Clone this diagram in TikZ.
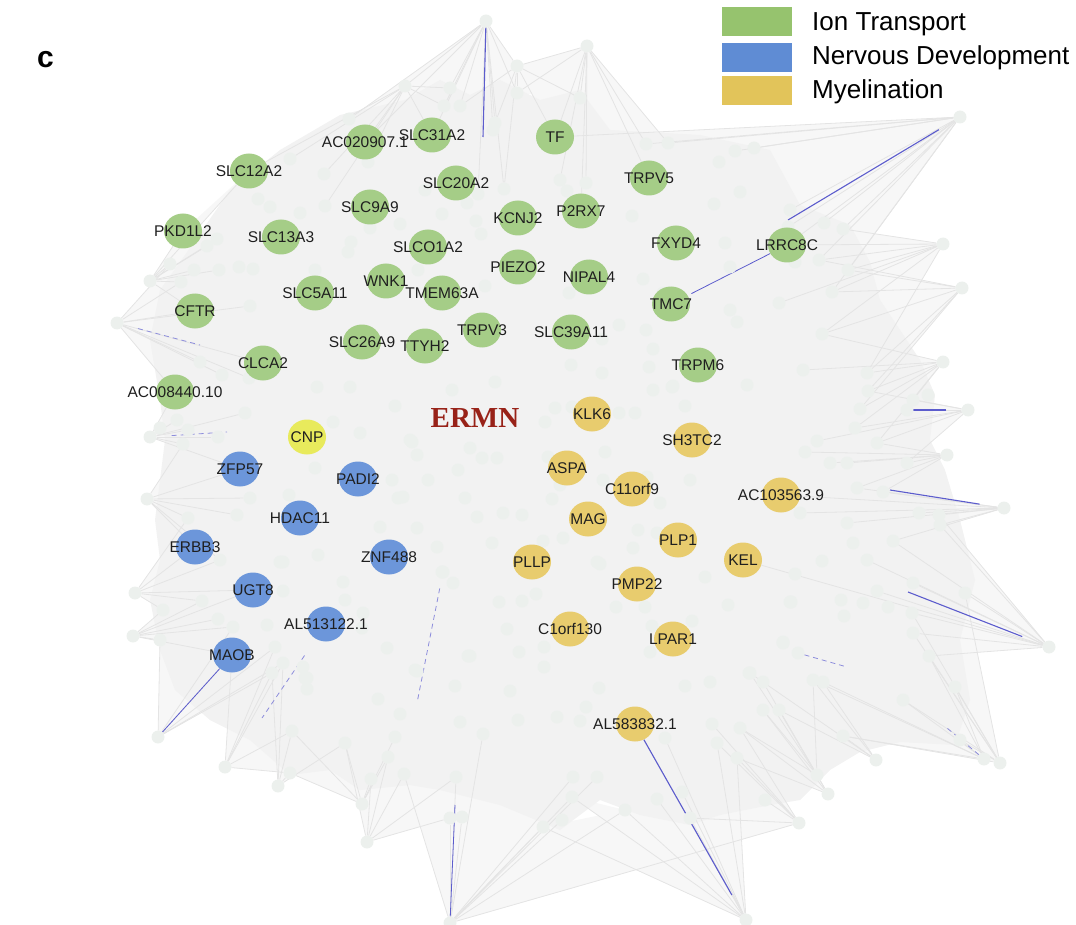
\documentclass[tikz,border=0pt]{standalone}
\usepackage{fontspec}
\setmainfont{Liberation Sans}
\newfontfamily\ermnfont{Liberation Serif}
\usepackage{tikz}
\usetikzlibrary{shapes.geometric}
\usetikzlibrary{backgrounds}

\definecolor{iongreen}{RGB}{165,205,135}
\definecolor{nervblue}{RGB}{108,150,218}
\definecolor{myelyellow}{RGB}{232,204,110}
\definecolor{legion}{RGB}{150,195,110}
\definecolor{legnerv}{RGB}{95,140,212}
\definecolor{legmyel}{RGB}{226,196,90}
\definecolor{cnpyellow}{RGB}{232,234,92}
\definecolor{webgray}{RGB}{242,242,242}
\definecolor{spikegray}{RGB}{247,247,247}
\definecolor{edgegray}{RGB}{228,228,228}
\definecolor{dotgray}{RGB}{236,240,237}
\definecolor{hilite}{RGB}{92,92,205}
\definecolor{ermnred}{RGB}{152,34,24}

\newcommand\iongenes{tf/555/137/TF, slc31a2/432/135/SLC31A2, ac020907/365/142/AC020907.1,
  slc12a2/249/171/SLC12A2, slc20a2/456/183/SLC20A2, trpv5/649/178/TRPV5, slc9a9/370/207/SLC9A9,
  kcnj2/518/218/KCNJ2, p2rx7/581/211/P2RX7, pkd1l2/183/231/PKD1L2, slc13a3/281/237/SLC13A3,
  fxyd4/676/243/FXYD4, lrrc8c/787/245/LRRC8C, slco1a2/428/247/SLCO1A2, piezo2/518/267/PIEZO2,
  nipal4/589/277/NIPAL4, wnk1/386/281/WNK1, slc5a11/315/293/SLC5A11, tmem63a/442/293/TMEM63A,
  tmc7/671/304/TMC7, cftr/195/311/CFTR, trpv3/482/330/TRPV3, slc39a11/571/332/SLC39A11,
  slc26a9/362/342/SLC26A9, ttyh2/425/346/TTYH2, clca2/263/363/CLCA2, trpm6/698/365/TRPM6,
  ac008440/175/392/AC008440.10}
\newcommand\nervgenes{zfp57/240/469/ZFP57, padi2/358/479/PADI2, hdac11/300/518/HDAC11,
  erbb3/195/547/ERBB3, znf488/389/557/ZNF488, ugt8/253/590/UGT8, al513122/326/624/AL513122.1,
  maob/232/655/MAOB}
\newcommand\myelgenes{klk6/592/414/KLK6, sh3tc2/692/440/SH3TC2, aspa/567/468/ASPA,
  c11orf9/632/489/C11orf9, ac103563/781/495/AC103563.9, mag/588/519/MAG, plp1/678/540/PLP1,
  kel/743/560/KEL, pllp/532/562/PLLP, pmp22/637/584/PMP22, c1orf130/570/629/C1orf130,
  lpar1/673/639/LPAR1, al583832/635/724/AL583832.1}
\newcommand\hubfans{
  hA/{hB,a8,a1,a2,a3,a5,a6,slc31a2,ac020907,a14,a13,a4,hC},
  hB/{a10,slc12a2,a11,g4,a9,ac020907,slc31a2,a2,a1},
  hC/{a3,a5,a13,a4,a7,tf},
  hD/{hC,a4,a7,p2rx7,b6,tf,b7,trpv5,b1,b2},
  hE/{tf,b1,b2,b3,b4,b13,b14,lrrc8c,b17,b15,b16,b40,b35},
  hF/{b16,b40,b17,b35,b33,lrrc8c,r1,r3},
  hG/{b17,b40,b35,r1,r3,r4,r7},
  hH/{r2,r1,r3,r4,r7,r9,r12,r5},
  hI/{r10,r9,r4,r5,r8,r12,r15},
  hJ/{r11,r13,r14,r12,r16,r17,r15},
  hK/{r16,r18,ac103563,r19,r17,r21,r22,r23,r24},
  hL/{r37,r23,r24,r21,r26,r30,r33,kel,r34,r35,r36},
  hM/{r37,r35,r34,r36,r43,r44,r45,r46},
  hN/{r36,r43,r44,r41,r42,r45,r46},
  hO/{r41,r42,r45,e37,r47},
  hP/{r41,r47,e28,e36,e37,e32},
  hQ/{hP,e37,e36,e32,e34},
  hR/{e32,e47,e46,e34,e33,e31},
  hS/{e40,e43,e44,e45,e35,al583832,e33,e34,e46,e42},
  hT/{hR,e43,e42,e41,e40,e39,e38,f17,f20,f19,f10,f15},
  hU/{f19,f17,f15,f16,f14,f12},
  hV/{f13,f14,f16,f12,f11,f18},
  hW/{f12,f18,f11,f1,l22},
  hX/{f18,f11,f1,l22,l21,maob},
  hY/{f1,l22,l21,l19,maob,l20},
  hZ/{maob,l19,ugt8,l18,l17,l16,l20},
  hAA/{ugt8,l17,l16,l14,erbb3,l11},
  hAB/{l14,erbb3,l11,l12,l13,zfp57,l9},
  hAC/{l9,zfp57,l10,l8,l5,l7,l6,ac008440},
  hAD/{ac008440,clca2,l4,l3,l2,l1,cftr,g12,g7},
  hAE/{cftr,g12,g7,g8,g9,g6,g5,pkd1l2,slc12a2}}

\begin{document}
\begin{tikzpicture}[x=1pt, y=-1pt,
    dot/.style={circle, fill=dotgray, minimum size=13pt, inner sep=0pt},
    gene/.style={ellipse, minimum width=38pt, minimum height=35pt, inner sep=0pt},
    ion/.style={gene, fill=iongreen},
    nerv/.style={gene, fill=nervblue},
    myel/.style={gene, fill=myelyellow},
    genelab/.style={font=\fontsize{15.5}{16}\selectfont, text=black!88, inner sep=0pt},
    edge/.style={draw=edgegray, line width=0.8pt},
    spike/.style={fill=spikegray},
    hl/.style={draw=hilite, line width=1.1pt},
    hldash/.style={draw=hilite!70, line width=0.8pt, dash pattern=on 5pt off 4pt},
    legbox/.style={minimum width=70pt, minimum height=29pt, inner sep=0pt},
    legtext/.style={anchor=base west, font=\fontsize{26}{26}\selectfont, inner sep=0pt}]

  \useasboundingbox (0,0) rectangle (1076,925);

  % outer hubs
  \foreach \n/\x/\y in {hA/486/21, hB/405/86, hC/517/66, hD/587/46, hE/960/117, hF/943/244,
      hG/962/288, hH/943/362, hI/968/410, hJ/947/455, hK/1004/508, hL/1049/647, hM/1000/763,
      hN/984/759, hO/876/760, hP/817/775, hQ/828/794, hR/799/823, hS/746/920, hT/450/923,
      hU/367/842, hV/362/804, hW/278/786, hX/225/767, hY/158/737, hZ/133/636, hAA/135/593,
      hAB/147/499, hAC/150/437, hAD/117/323, hAE/150/281}
    \node[dot] (\n) at (\x,\y) {};

  % small genes inside the web
  \foreach \n/\x/\y in {a1/450/88, a2/444/106, a3/460/106, a4/517/93, a5/495/123, a6/493/130,
      a7/580/98, a8/349/119, a9/368/162, a10/290/159, a11/324/174, a12/425/190, a13/504/189,
      a14/478/194, a15/467/203,
      b1/646/144, b2/668/143, b3/735/151, b4/754/148, b5/719/162, b6/560/180, b7/586/183,
      b8/567/191, b9/714/204, b10/740/192, b11/632/216, b12/725/243, b13/790/210, b14/788/227,
      b15/824/223, b16/843/229, b17/819/260, b18/730/267, b19/643/279, b20/663/293, b21/569/293,
      b22/602/339, b23/619/325, b24/646/330, b25/653/349, b26/571/365, b27/602/373, b28/649/367,
      b29/672/387, b30/747/385, b31/730/310, b32/737/322, b33/779/303, b35/832/292,
      b39/795/262, b40/848/270,
      g1/258/199, g2/270/207, g3/300/213, g4/325/206, g5/217/239, g6/207/246, g7/170/264,
      g8/194/270, g9/219/270, g10/239/267, g11/253/269, g12/181/282, g13/315/270, g14/351/242,
      g15/348/252, g16/370/228, g17/400/224, g18/418/270, g19/442/214, g20/476/221,
      g21/481/234, g22/485/286,
      l1/250/306, l2/200/362, l3/222/375, l4/249/378, l5/245/413, l6/177/420, l7/160/428,
      l8/188/430, l9/183/444, l10/218/437, l11/188/518, l12/237/515, l13/250/498, l14/220/560,
      l15/280/562, l16/163/610, l17/202/601, l18/218/619, l19/233/627, l20/160/640,
      l21/275/647, l22/283/663,
      m1/452/390, m2/495/382, m3/555/408, m4/545/422, m5/572/407, m6/619/413, m7/635/413,
      m8/653/390, m9/673/386, m10/685/406, m11/412/442, m12/417/455, m13/470/448, m14/482/458,
      m15/497/458, m16/458/470, m17/428/480, m18/403/497, m19/465/498, m20/548/457,
      m21/605/452, m22/603/480, m23/560/485, m24/552/499, m25/647/477, m26/660/503,
      m27/690/480, m28/477/517, m29/503/513, m30/522/515, m31/563/538, m32/543/541,
      m33/638/530, m34/657/533, m35/633/548, m36/597/562, m37/492/543, m38/437/547,
      m39/417/528, m40/442/572, m41/317/387, m42/350/387, m43/333/422, m44/360/433,
      m45/395/406, m46/410/440, m47/315/468, m48/392/480, m49/398/498, m50/289/495,
      m51/380/527, m52/283/562, m53/318/555, m54/343/582, m55/345/600, m56/363/613,
      m57/362/628, m58/387/648, m59/283/591, m60/267/625, m61/303/667, m62/307/678, m63/415/670,
      r1/822/334, r2/803/370, r3/867/373, r4/868/391, r5/913/400, r6/928/395, r7/860/409,
      r8/907/410, r9/855/428, r10/817/441, r11/805/452, r12/877/443, r13/830/463, r14/847/463,
      r15/907/463, r16/857/488, r17/883/492, r18/800/513, r19/847/523, r20/853/543,
      r21/893/541, r22/919/513, r23/939/515, r24/940/525, r25/822/561, r26/867/560,
      r27/795/574, r28/791/602, r29/841/600, r30/877/591, r31/863/603, r32/888/607,
      r33/913/583, r34/912/613, r35/913/633, r36/929/656, r37/965/593, r38/844/616,
      r39/783/643, r40/798/653, r41/813/680, r42/823/682, r43/955/687, r44/903/700,
      r45/843/736, r46/960/740, r47/750/673,
      e1/443/572, e2/453/583, e3/499/602, e4/522/601, e5/536/594, e6/600/564, e7/507/629,
      e8/544/647, e9/519/652, e10/544/667, e11/470/656, e12/510/691, e13/599/688, e14/586/707,
      e15/557/717, e16/580/721, e17/518/720, e18/616/607, e19/645/607, e20/652/626,
      e21/650/652, e22/692/621, e23/705/577, e24/728/605, e25/790/602, e26/783/642,
      e27/749/673, e28/763/682, e29/685/686, e30/710/682, e31/712/724, e32/740/728,
      e33/717/743, e34/737/758, e35/665/738, e36/763/710, e37/779/710, e38/573/777,
      e39/597/777, e40/572/797, e41/562/820, e42/543/827, e43/625/810, e44/657/799,
      e45/682/792, e46/690/818, e47/765/800,
      f1/272/673, f2/305/678, f3/307/689, f4/378/699, f5/417/671, f6/468/656, f7/455/686,
      f8/400/714, f9/460/722, f10/483/734, f11/292/731, f12/345/743, f13/395/737, f14/388/757,
      f15/404/774, f16/371/779, f17/456/777, f18/290/773, f19/450/818, f20/462/817}
    \node[dot] (\n) at (\x,\y) {};

  % the three gene groups
  \foreach \n/\x/\y/\lab in \iongenes
    \node[ion] (\n) at (\x,\y) {};
  \foreach \n/\x/\y/\lab in \nervgenes
    \node[nerv] (\n) at (\x,\y) {};
  \foreach \n/\x/\y/\lab in \myelgenes
    \node[myel] (\n) at (\x,\y) {};
  \node[gene, fill=cnpyellow] (cnp) at (307,437) {};

  \coordinate (tipA) at (483,137);
  \coordinate (tipE) at (788,220);
  \coordinate (tipAD) at (200,345);
  \coordinate (tipAC) at (227,432);
  \coordinate (tipT) at (455,805);
  \coordinate (tipK) at (890,490);
  \coordinate (tipL) at (908,592);
  \coordinate (tipI) at (902,410);
  \coordinate (tipN) at (947,728);
  \coordinate (tipM) at (262,718);
  \coordinate (tipV) at (417,703);
  \coordinate (tipR) at (847,667);

  \begin{pgfonlayer}{background}
    % the fans, filled
    \foreach \h/\ts in \hubfans
      \foreach \tg [remember=\tg as \prev (initially \h)] in \ts
        \fill[spike] (\h.center) -- (\prev.center) -- (\tg.center) -- cycle;
    % dense core
    \fill[webgray] (405,100) -- (440,80) -- (470,95) -- (500,80) -- (540,100) -- (580,90)
      -- (610,130) -- (700,135) -- (770,150) -- (800,205) -- (850,225) -- (870,262)
      -- (880,300) -- (900,330) -- (920,360) -- (935,395) -- (930,440) -- (945,470)
      -- (960,520) -- (975,580) -- (960,640) -- (970,700) -- (955,745) -- (900,742)
      -- (860,752) -- (830,770) -- (800,800) -- (770,805) -- (720,815) -- (690,825)
      -- (640,815) -- (600,800) -- (560,830) -- (500,805) -- (440,790) -- (410,785)
      -- (360,790) -- (330,770) -- (290,775) -- (250,740) -- (210,720) -- (175,690)
      -- (160,650) -- (150,600) -- (160,560) -- (155,520) -- (160,480) -- (165,440)
      -- (160,400) -- (150,340) -- (160,290) -- (185,255) -- (230,190) -- (280,150)
      -- (340,115) -- cycle;
    % fans out to the hubs
    \foreach \h/\ts in \hubfans
      \foreach \tg in \ts
        \draw[edge] (\h) -- (\tg);
    % highlighted links
    \draw[hl] (hA) -- (tipA);
    \draw[hl, shorten <=18pt] (hE) -- (tipE);
    \draw[hl, line width=0.8pt, shorten >=4pt] (lrrc8c) -- (tmc7);
    \draw[hldash, shorten <=15pt] (hAD) -- (tipAD);
    \draw[hldash, shorten <=15pt] (hAC) -- (tipAC);
    \draw[hl, line width=0.8pt] (hY) -- (maob);
    \draw[hl, shorten >=22pt] (al583832) -- (hS);
    \draw[hl, line width=0.8pt] (hT) -- (tipT);
    \draw[hl, shorten <=18pt] (hK) -- (tipK);
    \draw[hl, shorten <=22pt] (hL) -- (tipL);
    \draw[hl, shorten <=15pt] (hI) -- (tipI);
    \draw[hldash] (hN) -- (tipN);
    \draw[hldash, shorten <=20pt] (al513122) -- (tipM);
    \draw[hldash, shorten <=10pt] (e1) -- (tipV);
    \draw[hldash] (r40) -- (tipR);
  \end{pgfonlayer}

  % gene names
  \foreach \n/\x/\y/\lab in \iongenes
    \node[genelab] (\n lab) at (\n) {\lab};
  \foreach \n/\x/\y/\lab in \nervgenes
    \node[genelab] (\n lab) at (\n) {\lab};
  \foreach \n/\x/\y/\lab in \myelgenes
    \node[genelab] (\n lab) at (\n) {\lab};
  \node[genelab] (cnp lab) at (cnp) {CNP};

  \node[anchor=base, font=\ermnfont\bfseries\fontsize{29}{29}\selectfont, text=ermnred,
    inner sep=0pt] (ermn) at (475,427) {ERMN};

  % legend
  \node[legbox, fill=legion] (legion) at (757,21.5) {};
  \node[legbox, fill=legnerv] (legnerv) at (757,57.5) {};
  \node[legbox, fill=legmyel] (legmyel) at (757,91) {};
  \node[legtext] (legion text) at (812,31) {Ion Transport};
  \node[legtext] (legnerv text) at (812,65) {Nervous Development};
  \node[legtext] (legmyel text) at (812,99) {Myelination};

  \node[anchor=base west, font=\bfseries\fontsize{30}{30}\selectfont, inner sep=0pt] (panel) at (37,68) {c};
\end{tikzpicture}
\end{document}
